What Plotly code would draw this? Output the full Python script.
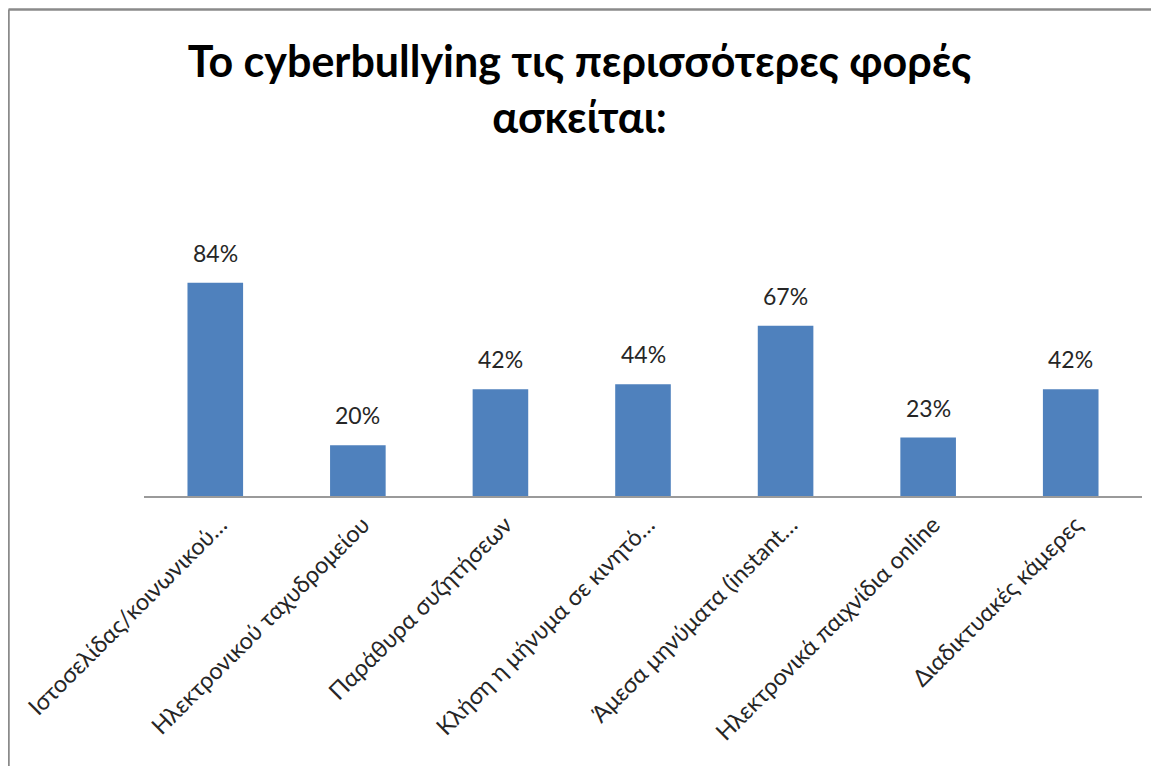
import plotly.graph_objects as go

# ── Data ─────────────────────────────────────────────────────────
categories = [
    "Ιστοσελίδας/κοινωνικού…",
    "Ηλεκτρονικού ταχυδρομείου",
    "Παράθυρα συζητήσεων",
    "Κλήση η μήνυμα σε κινητό…",
    "Άμεσα μηνύματα (instant…",
    "Ηλεκτρονικά παιχνίδια online",
    "Διαδικτυακές κάμερες",
]
values = [84, 20, 42, 44, 67, 23, 42]

BAR_COLOR = "#4F81BD"
FONT = "Lato"

fig = go.Figure(go.Bar(
    x=categories,
    y=values,
    marker=dict(color=BAR_COLOR, line=dict(width=0)),
    width=0.39,
    hoverinfo="skip",
))

# value labels above bars
for c, v in zip(categories, values):
    fig.add_annotation(x=c, y=v, text=f"{v}%", showarrow=False,
                       yanchor="bottom", yshift=14,
                       font=dict(family=FONT, size=23, color="#262626"))

# page body adds an 8px margin, so the figure is 16px smaller than the window
W, H = 1143, 758
L, R, T, B = 136, 9, 234, 270
pw, ph = W - L - R, H - T - B
x0 = (0.5 - L) / pw
y1 = 1 + (T - 1.5) / ph
y0 = -(B + 20) / ph
border = dict(color="#8a8a8a", width=2.5)
fig.add_shape(type="line", xref="paper", yref="paper", x0=x0, x1=x0, y0=y0, y1=y1, line=border)
fig.add_shape(type="line", xref="paper", yref="paper", x0=x0, x1=1.2, y0=y1, y1=y1, line=border)

fig.update_layout(
    width=W, height=H,
    margin=dict(l=L, r=R, t=T, b=B),
    paper_bgcolor="white",
    plot_bgcolor="white",
    showlegend=False,
    title=dict(
        text="<b>Το cyberbullying τις περισσότερες φορές<br>ασκείται:</b>",
        x=0.5, xref="container", xanchor="center",
        y=1 - 69 / H, yref="container", yanchor="top",
        font=dict(family=FONT, size=43, color="black"),
    ),
    font=dict(family=FONT, color="#262626"),
    bargap=0.61,
)
fig.update_xaxes(
    tickangle=-45,
    tickfont=dict(family=FONT, size=23.5, color="#262626"),
    ticklabelshift=5, ticklabelstandoff=4,
    showline=True, linecolor="#9a9a9a", linewidth=1.5,
    ticks="", showgrid=False,
)
fig.update_yaxes(range=[0, 100], visible=False)

fig.write_html("out.html")
